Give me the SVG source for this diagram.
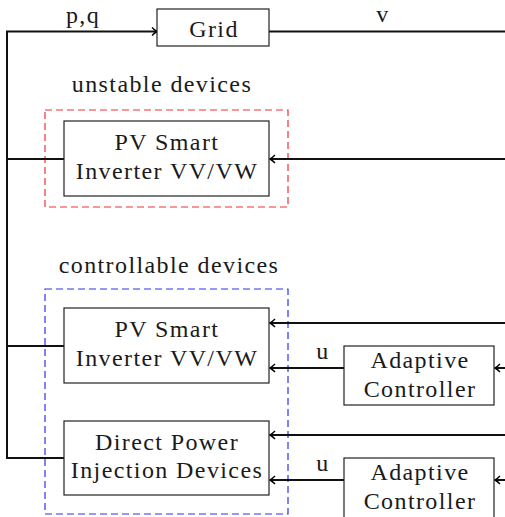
<svg xmlns="http://www.w3.org/2000/svg" width="505" height="517" viewBox="0 0 505 517">
<defs>
<marker id="arr" viewBox="-6 -5 7 10" refX="0" refY="0" markerWidth="7" markerHeight="10" markerUnits="userSpaceOnUse" orient="auto">
<path d="M-5,-4 Q-2,-1 0,0 Q-2,1 -5,4" fill="none" stroke="#000" stroke-width="1.4"/>
</marker>
</defs>
<style>
text{font-family:"Liberation Serif","Times New Roman",serif;font-size:24px;letter-spacing:1.4px;fill:#1a1a1a;text-anchor:middle}
.box{fill:#fff;stroke:#222;stroke-width:1.2}
.con{fill:none;stroke:#111;stroke-width:2}
.arr{marker-end:url(#arr)}
.red{fill:none;stroke:#f03030;stroke-width:1.2;stroke-dasharray:7 4}
.blue{fill:none;stroke:#3030f0;stroke-width:1.2;stroke-dasharray:7 4}
</style>
<rect id="unstable-group" class="red" x="45" y="110" width="243" height="97"/>
<text x="162" y="92">unstable devices</text>
<rect id="controllable-group" class="blue" x="45" y="289" width="243" height="225"/>
<text x="169" y="273">controllable devices</text>
<g id="connectors">
<path class="con" d="M64,458 H7 V31.5 H157" style="marker-end:url(#arr)"/>
<path class="con" d="M64,159 H7"/>
<path class="con" d="M64,346 H7"/>
<path class="con" d="M269,31.5 H505"/>
<path class="con arr" d="M505,159 H270"/>
<path class="con arr" d="M505,323 H270"/>
<path class="con arr" d="M344,368 H270"/>
<path class="con arr" d="M505,368 H495"/>
<path class="con arr" d="M505,435 H270"/>
<path class="con arr" d="M344,480 H270"/>
<path class="con arr" d="M505,480 H495"/>
<text x="83" y="23">p,q</text>
<text x="383" y="22">v</text>
<text x="323" y="359">u</text>
<text x="323" y="471">u</text>
</g>
<g id="grid">
<rect class="box" x="157" y="9" width="112" height="37"/>
<text x="214" y="37">Grid</text>
</g>
<g id="pv-unstable">
<rect class="box" x="64" y="121" width="205" height="75"/>
<text x="167" y="150">PV Smart</text>
<text x="167" y="179">Inverter VV/VW</text>
</g>
<g id="pv-controllable">
<rect class="box" x="64" y="308" width="205" height="75"/>
<text x="167" y="337">PV Smart</text>
<text x="167" y="366">Inverter VV/VW</text>
</g>
<g id="direct-power">
<rect class="box" x="64" y="421" width="205" height="74"/>
<text x="167" y="450">Direct Power</text>
<text x="167" y="478">Injection Devices</text>
</g>
<g id="adaptive-1">
<rect class="box" x="344" y="346" width="150" height="59"/>
<text x="420" y="368">Adaptive</text>
<text x="420" y="397">Controller</text>
</g>
<g id="adaptive-2">
<rect class="box" x="344" y="458" width="150" height="62"/>
<text x="420" y="480">Adaptive</text>
<text x="420" y="509">Controller</text>
</g>
</svg>
